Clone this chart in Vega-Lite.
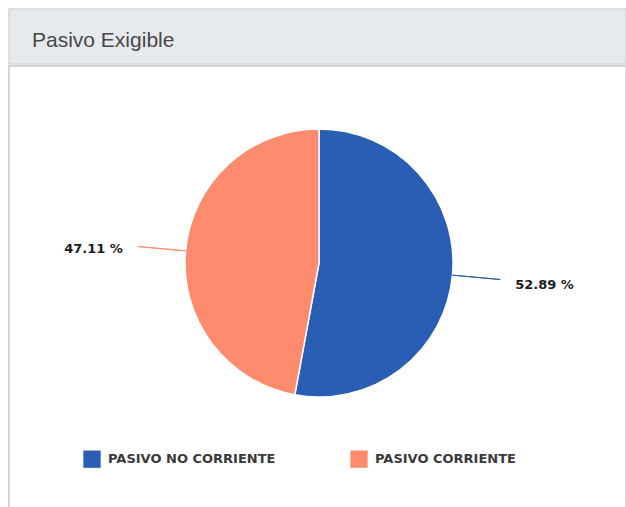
{
  "$schema": "https://vega.github.io/schema/vega-lite/v6.json",
  "padding": {"left": 8, "top": 8, "right": 0, "bottom": 0},
  "background": "white",
  "spacing": 0,
  "config": {
    "view": {"stroke": "#d3d6d9", "strokeWidth": 1.5},
    "concat": {"spacing": 0}
  },
  "datasets": {
    "pasivo": [
      {"category": "PASIVO NO CORRIENTE", "value": 52.89, "order": 1},
      {"category": "PASIVO CORRIENTE", "value": 47.11, "order": 2}
    ]
  },
  "vconcat": [
    {
      "width": 617,
      "height": 55,
      "view": {"fill": "#e7eaed", "stroke": "#d3d6d9", "strokeWidth": 1.5},
      "data": {"values": [{"title": "Pasivo Exigible"}]},
      "mark": {"type": "text", "x": 23, "y": 38, "align": "left", "baseline": "alphabetic", "font": "Liberation Sans", "fontSize": 21, "fontWeight": "normal", "color": "#484848"},
      "encoding": {"text": {"field": "title", "type": "nominal"}}
    },
    {
      "width": 617,
      "height": 443,
      "view": {"stroke": "#d3d6d9", "strokeWidth": 2},
      "data": {"name": "pasivo"},
      "transform": [{"calculate": "format(datum.value, '.2f') + ' %'", "as": "label"}],
      "encoding": {
        "theta": {"field": "value", "type": "quantitative", "stack": true, "scale": {"domain": [0, 100]}},
        "order": {"field": "order", "type": "quantitative"}
      },
      "layer": [
        {
          "mark": {"type": "arc", "x": 310, "y": 197, "outerRadius": 134, "stroke": "white", "strokeWidth": 1.5},
          "encoding": {
            "color": {
              "field": "category",
              "type": "nominal",
              "sort": ["PASIVO NO CORRIENTE", "PASIVO CORRIENTE"],
              "scale": {"domain": ["PASIVO NO CORRIENTE", "PASIVO CORRIENTE"], "range": ["#2a5eb5", "#ff8b6e"]},
              "legend": {
                "orient": "none",
                "legendX": 74,
                "legendY": 441,
                "direction": "horizontal",
                "title": null,
                "padding": 0,
                "symbolType": "square",
                "symbolSize": 300,
                "symbolStrokeWidth": 0,
                "symbolOpacity": 1,
                "labelFont": "DejaVu Sans",
                "labelFontWeight": "bold",
                "labelFontSize": 13,
                "labelColor": "#3a3a3a",
                "labelOffset": 7,
                "columnPadding": 74,
                "labelLimit": 400
              }
            }
          }
        },
        {
          "transform": [{"stack": "value", "groupby": [], "sort": [{"field": "order", "order": "ascending"}], "as": ["t0", "t1"]}],
          "mark": {"type": "arc", "x": 310, "y": 197, "radius": 182, "radius2": 134, "padAngle": 3, "thetaOffset": 0.6, "theta2Offset": -0.6, "filled": false, "strokeWidth": 1},
          "encoding": {
            "theta": {"field": "t0", "type": "quantitative", "stack": null, "scale": {"domain": [0, 100]}},
            "theta2": {"field": "t1"},
            "stroke": {
              "field": "category",
              "type": "nominal",
              "scale": {"domain": ["PASIVO NO CORRIENTE", "PASIVO CORRIENTE"], "range": ["#2a5eb5", "#ff8b6e"]},
              "legend": null
            }
          }
        },
        {
          "mark": {
            "type": "text",
            "x": 310,
            "y": 197,
            "radius": 197,
            "dy": 4,
            "align": {"expr": "datum.order == 1 ? 'left' : 'right'"},
            "baseline": "middle",
            "font": "DejaVu Sans",
            "fontWeight": "bold",
            "fontSize": 13,
            "color": "#1c1c1c"
          },
          "encoding": {"text": {"field": "label", "type": "nominal"}}
        }
      ]
    }
  ]
}
